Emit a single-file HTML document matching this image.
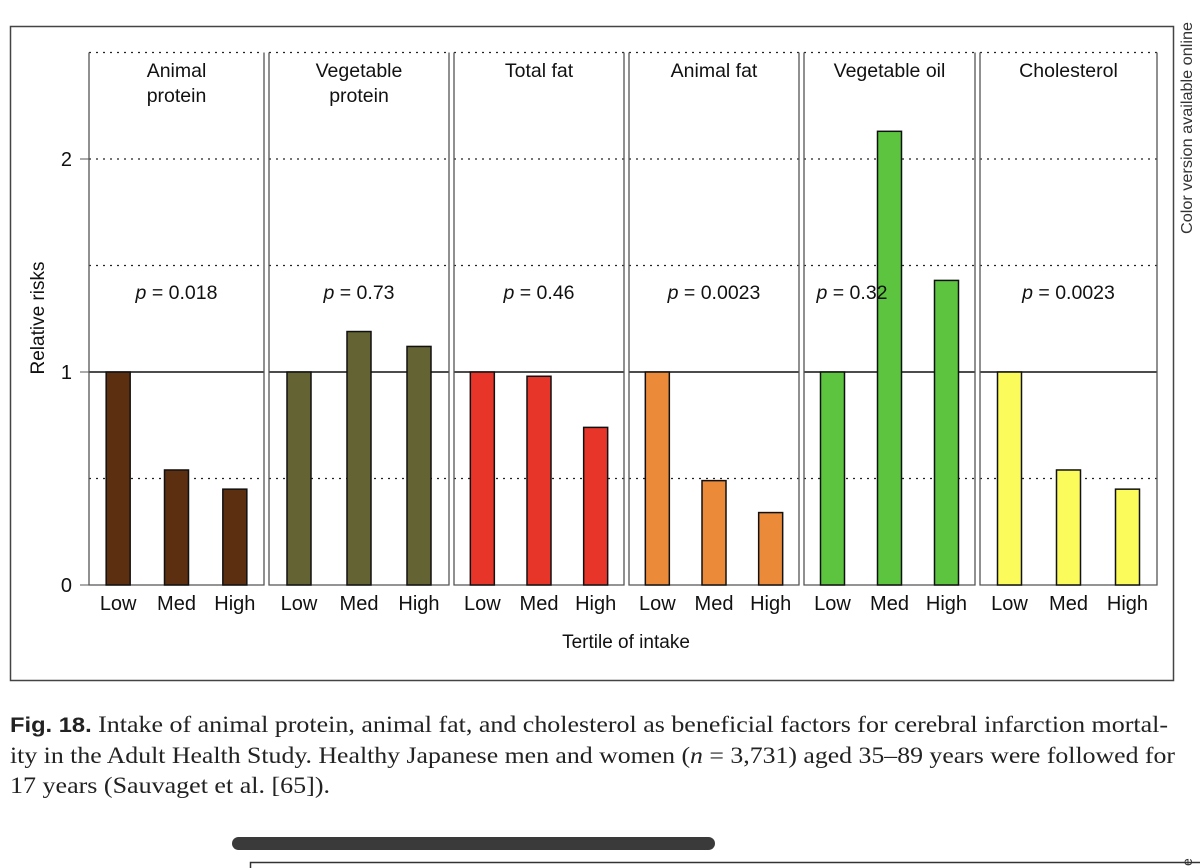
<!DOCTYPE html>
<html><head><meta charset="utf-8"><style>
body{margin:0;background:#fff;width:1200px;height:868px;overflow:hidden;position:relative;font-family:"Liberation Sans",sans-serif}
svg{position:absolute;left:0;top:0}
</style></head><body>
<svg id="chart" width="1200" height="868">
<rect x="10.5" y="26.5" width="1163" height="654" fill="none" stroke="#444" stroke-width="1.5"/>
<text x="1192" y="128" font-size="16" fill="#333" text-anchor="middle" transform="rotate(-90 1192 128)" textLength="212" lengthAdjust="spacingAndGlyphs">Color version available online</text>
<text transform="translate(44 318) rotate(-90)" font-size="19" text-anchor="middle" fill="#111">Relative risks</text>
<text x="626" y="648" font-size="19" text-anchor="middle" fill="#111">Tertile of intake</text>
<g id="g"></g>
<g font-family="Liberation Serif, serif" font-size="23" fill="#222">
<text x="10" y="732" textLength="1158" lengthAdjust="spacingAndGlyphs"><tspan font-family="Liberation Sans, sans-serif" font-weight="bold" font-size="21">Fig. 18.</tspan> Intake of animal protein, animal fat, and cholesterol as beneficial factors for cerebral infarction mortal-</text>
<text x="10" y="763" textLength="1165" lengthAdjust="spacingAndGlyphs">ity in the Adult Health Study. Healthy Japanese men and women (<tspan font-style="italic">n</tspan> = 3,731) aged 35–89 years were followed for</text>
<text x="10" y="793" textLength="320" lengthAdjust="spacingAndGlyphs">17 years (Sauvaget et al. [65]).</text>
</g>
<rect x="232" y="837" width="483" height="13" rx="6.5" fill="#3a3a3a"/>
<path d="M250.5 868 V862.5 H1200" fill="none" stroke="#333" stroke-width="1.5"/>
<text x="1190" y="868" font-size="14" fill="#333" transform="rotate(-90 1190 866)">e</text>
</svg>
<script>
const panels=["Animal|protein","Vegetable|protein","Total fat","Animal fat","Vegetable oil","Cholesterol"];
const tertiles=["Low","Med","High"];
const lowValues=[1.0,1.0,1.0,1.0,1.0,1.0];
const medValues=[0.54,1.19,0.98,0.49,2.13,0.54];
const highValues=[0.45,1.12,0.74,0.34,1.43,0.45];
const pValues=["0.018","0.73","0.46","0.0023","0.32","0.0023"];
const colors=["#5b2f0f","#646333","#e8352a","#eb8b3a","#5cc43e","#fbfb5c"];
const yTicks=[0,1,2];
const gridVals=[0.5,1.5,2.0,2.5];

const NS="http://www.w3.org/2000/svg";
const g=document.getElementById('g');
const y=v=>585-v*213;
const pLeft=[89,269,454,629,804,980],pW=[175,180,170,170,171,177];
function mk(t,a){const e=document.createElementNS(NS,t);for(const k in a)e.setAttribute(k,a[k]);g.appendChild(e);return e;}
yTicks.forEach(v=>{
 const t=mk('text',{x:72,y:y(v)+7,'font-size':20,'text-anchor':'end',fill:'#111'});t.textContent=v;
 
 
 const l=mk('line',{x1:80,x2:89,y1:y(v),y2:y(v),stroke:'#555'});
 
 
});
const series=[lowValues,medValues,highValues];
panels.forEach((name,i)=>{
 const x0=pLeft[i],w=pW[i];
 gridVals.forEach(v=>{const l=mk('line',{x1:x0,x2:x0+w,y1:y(v),y2:y(v),stroke:'#222','stroke-dasharray':'2 5','stroke-width':1.3});
  
  });
 const r=mk('line',{x1:x0,x2:x0+w,y1:y(1),y2:y(1),stroke:'#111','stroke-width':1.5});
 
 
 const f=mk('path',{d:`M${x0} ${y(2.5)} V585 H${x0+w} V${y(2.5)}`,fill:'none',stroke:'#555','stroke-width':1.3});
 
 
 name.split('|').forEach((ln,k)=>{const t=mk('text',{x:x0+w/2,y:77+k*25,'font-size':19.5,'text-anchor':'middle',fill:'#111'});t.textContent=ln;
  
  });
 series.forEach((s,j)=>{
  const cx=x0+w*(2*j+1)/6,v=s[i];
  const b=mk('rect',{x:cx-12,y:y(v),width:24,height:585-y(v),fill:colors[i],stroke:'#111','stroke-width':1.5});
  
  
  const t=mk('text',{x:cx,y:610,'font-size':20,'text-anchor':'middle',fill:'#111'});t.textContent=tertiles[j];
  
  
 });
 const px=i==4?x0+48:x0+w/2;
 const pt=mk('text',{x:px,y:299,'font-size':19.5,'text-anchor':'middle',fill:'#111'});
 pt.innerHTML='<tspan font-style="italic">p</tspan> = '+pValues[i];
 
 
});
</script>
</body></html>
